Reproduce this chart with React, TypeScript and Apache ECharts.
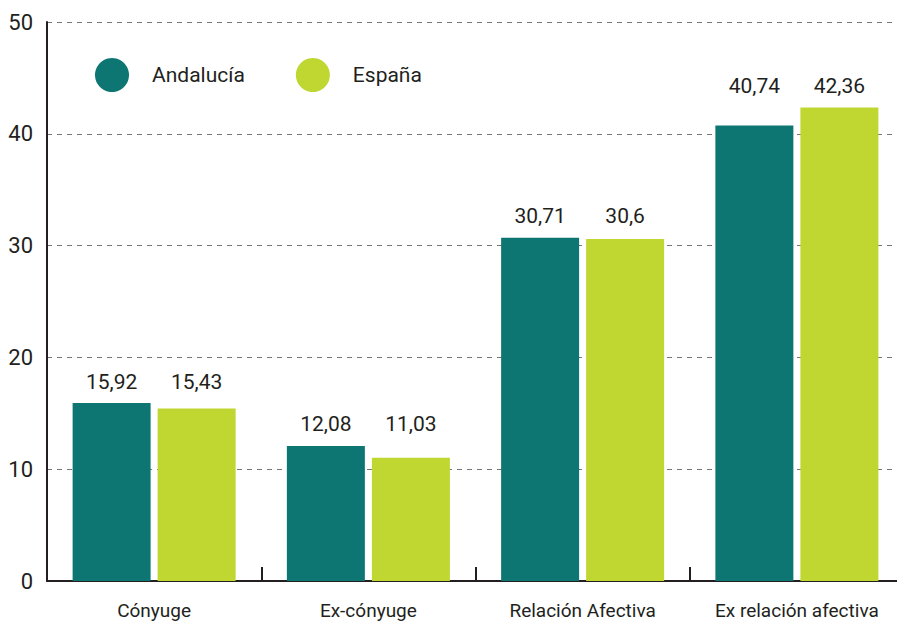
import React, { useEffect, useRef } from "react";
import * as echarts from "echarts";

const categories = ["Cónyuge", "Ex-cónyuge", "Relación Afectiva", "Ex relación afectiva"];
const andalucia = [15.92, 12.08, 30.71, 40.74];
const espana = [15.43, 11.03, 30.6, 42.36];
const seriesNames = ["Andalucía", "España"];

const FONT = "Roboto, 'Noto Sans', sans-serif";
const fmt = (v: number) => String(v).replace(".", ",");

const PLOT_H = 559;
const Y_MAX = 50;
const BASE_DIST = 11;

export default function App() {
  const ref = useRef<HTMLDivElement>(null);
  useEffect(() => {
    if (!ref.current) return;
    const chart = echarts.init(ref.current, undefined, { renderer: "svg" });
    const labelCfg = {
      show: true,
      position: "top" as const,
      distance: BASE_DIST,
      fontFamily: FONT,
      fontSize: 21,
      color: "#231f20",
      formatter: (p: any) => fmt(p.value),
    };
    // labels of a pair are aligned above the taller bar
    const items = (vals: number[], other: number[]) =>
      vals.map((v, i) => ({
        value: v,
        label: { distance: BASE_DIST + (Math.max(v, other[i]) - v) * (PLOT_H / Y_MAX) },
      }));
    chart.setOption({
      animation: false,
      backgroundColor: "#ffffff",
      legend: {
        left: 90,
        top: 53,
        itemWidth: 34,
        itemHeight: 34,
        itemGap: 51,
        icon: "circle",
        textStyle: { fontFamily: FONT, fontSize: 21, color: "#231f20", padding: [0, 0, 0, 18] },
        data: seriesNames,
      },
      grid: {
        left: 47,
        top: 22,
        right: -7,
        bottom: 43,
        containLabel: false,
        outerBoundsMode: "none",
      },
      xAxis: {
        type: "category",
        data: categories,
        axisLine: { show: true, lineStyle: { color: "#231f20", width: 2 } },
        axisTick: { show: true, inside: true, length: 14, interval: 0, lineStyle: { color: "#231f20", width: 2 } },
        axisLabel: { fontFamily: FONT, fontSize: 19, color: "#231f20", margin: 20, interval: 0 },
      },
      yAxis: {
        type: "value",
        min: 0,
        max: Y_MAX,
        interval: 10,
        axisLine: { show: true, lineStyle: { color: "#231f20", width: 2 } },
        axisTick: { show: false },
        axisLabel: { fontFamily: FONT, fontSize: 22, color: "#231f20", margin: 14 },
        splitLine: { show: true, lineStyle: { color: "#777777", type: [5, 5], width: 1 } },
      },
      series: [
        {
          name: seriesNames[0],
          type: "bar",
          data: items(andalucia, espana),
          barWidth: 78,
          barGap: "9%",
          itemStyle: { color: "#0e7672" },
          label: labelCfg,
        },
        {
          name: seriesNames[1],
          type: "bar",
          data: items(espana, andalucia),
          barWidth: 78,
          barGap: "9%",
          itemStyle: { color: "#bfd730" },
          label: labelCfg,
        },
      ],
    });
    return () => chart.dispose();
  }, []);
  return <div ref={ref} style={{ width: 897, height: 624, position: "absolute", left: 0, top: 0 }} />;
}
